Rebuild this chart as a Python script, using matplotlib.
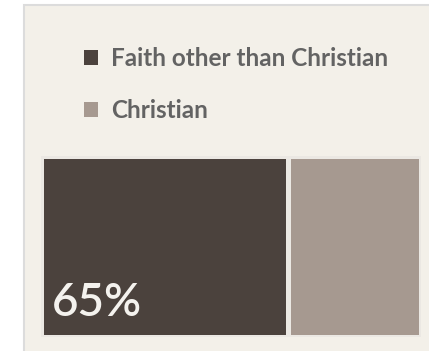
import matplotlib
matplotlib.use("Agg")
import matplotlib.pyplot as plt
from matplotlib.patches import Rectangle, Patch

# share of respondents by faith
categories = ["Faith other than Christian", "Christian"]
shares = [65, 35]
colors = ["#4b423d", "#a69990"]

W, H, DPI = 429, 351, 100
PANEL = "#f3f0e9"

fig = plt.figure(figsize=(W / DPI, H / DPI), dpi=DPI)
fig.patch.set_facecolor("white")


def px(x0, y0, x1, y1):
    """pixel box (top-left origin) -> figure fraction rect"""
    return [x0 / W, 1 - y1 / H, (x1 - x0) / W, (y1 - y0) / H]


# beige card behind everything
card = Rectangle((24 / W, -0.05), 1.1, 1 - 5 / H + 0.05,
                 transform=fig.transFigure, facecolor=PANEL,
                 edgecolor="#dcdcdc", linewidth=1.5, zorder=-1)
fig.patches.append(card)

# bar edges eat ~2.5px, so the axes box is padded by that much
ax = fig.add_axes(px(40.5, 155.5, 420.5, 336.5))
ax.set_zorder(2)
ax.set_axis_off()
ax.set_xlim(0, sum(shares))
ax.set_ylim(-0.5, 0.5)

left = 0
for val, col in zip(shares, colors):
    ax.barh(0, val, left=left, height=1.0, color=col,
            edgecolor="#ebe8e3", linewidth=3.6)
    left += val

ax.text(3.1, -0.5 + 21 / 181, f"{shares[0]}%", color="#f4f2ee",
        fontsize=33, family="Lato", weight="semibold",
        ha="left", va="baseline")

handles = [Patch(facecolor=c, edgecolor="none") for c in colors]
leg = fig.legend(handles=handles, labels=categories,
                 loc="upper left", bbox_to_anchor=(84 / W, 1 - 47 / H),
                 frameon=False, prop={"family": "Lato", "weight": "bold",
                                      "size": 17.5},
                 labelcolor="#636363", handlelength=0.58, handleheight=0.58,
                 handletextpad=0.55, labelspacing=1.2, borderpad=0,
                 borderaxespad=0)

fig.savefig("out.png", dpi=DPI, facecolor="white")
